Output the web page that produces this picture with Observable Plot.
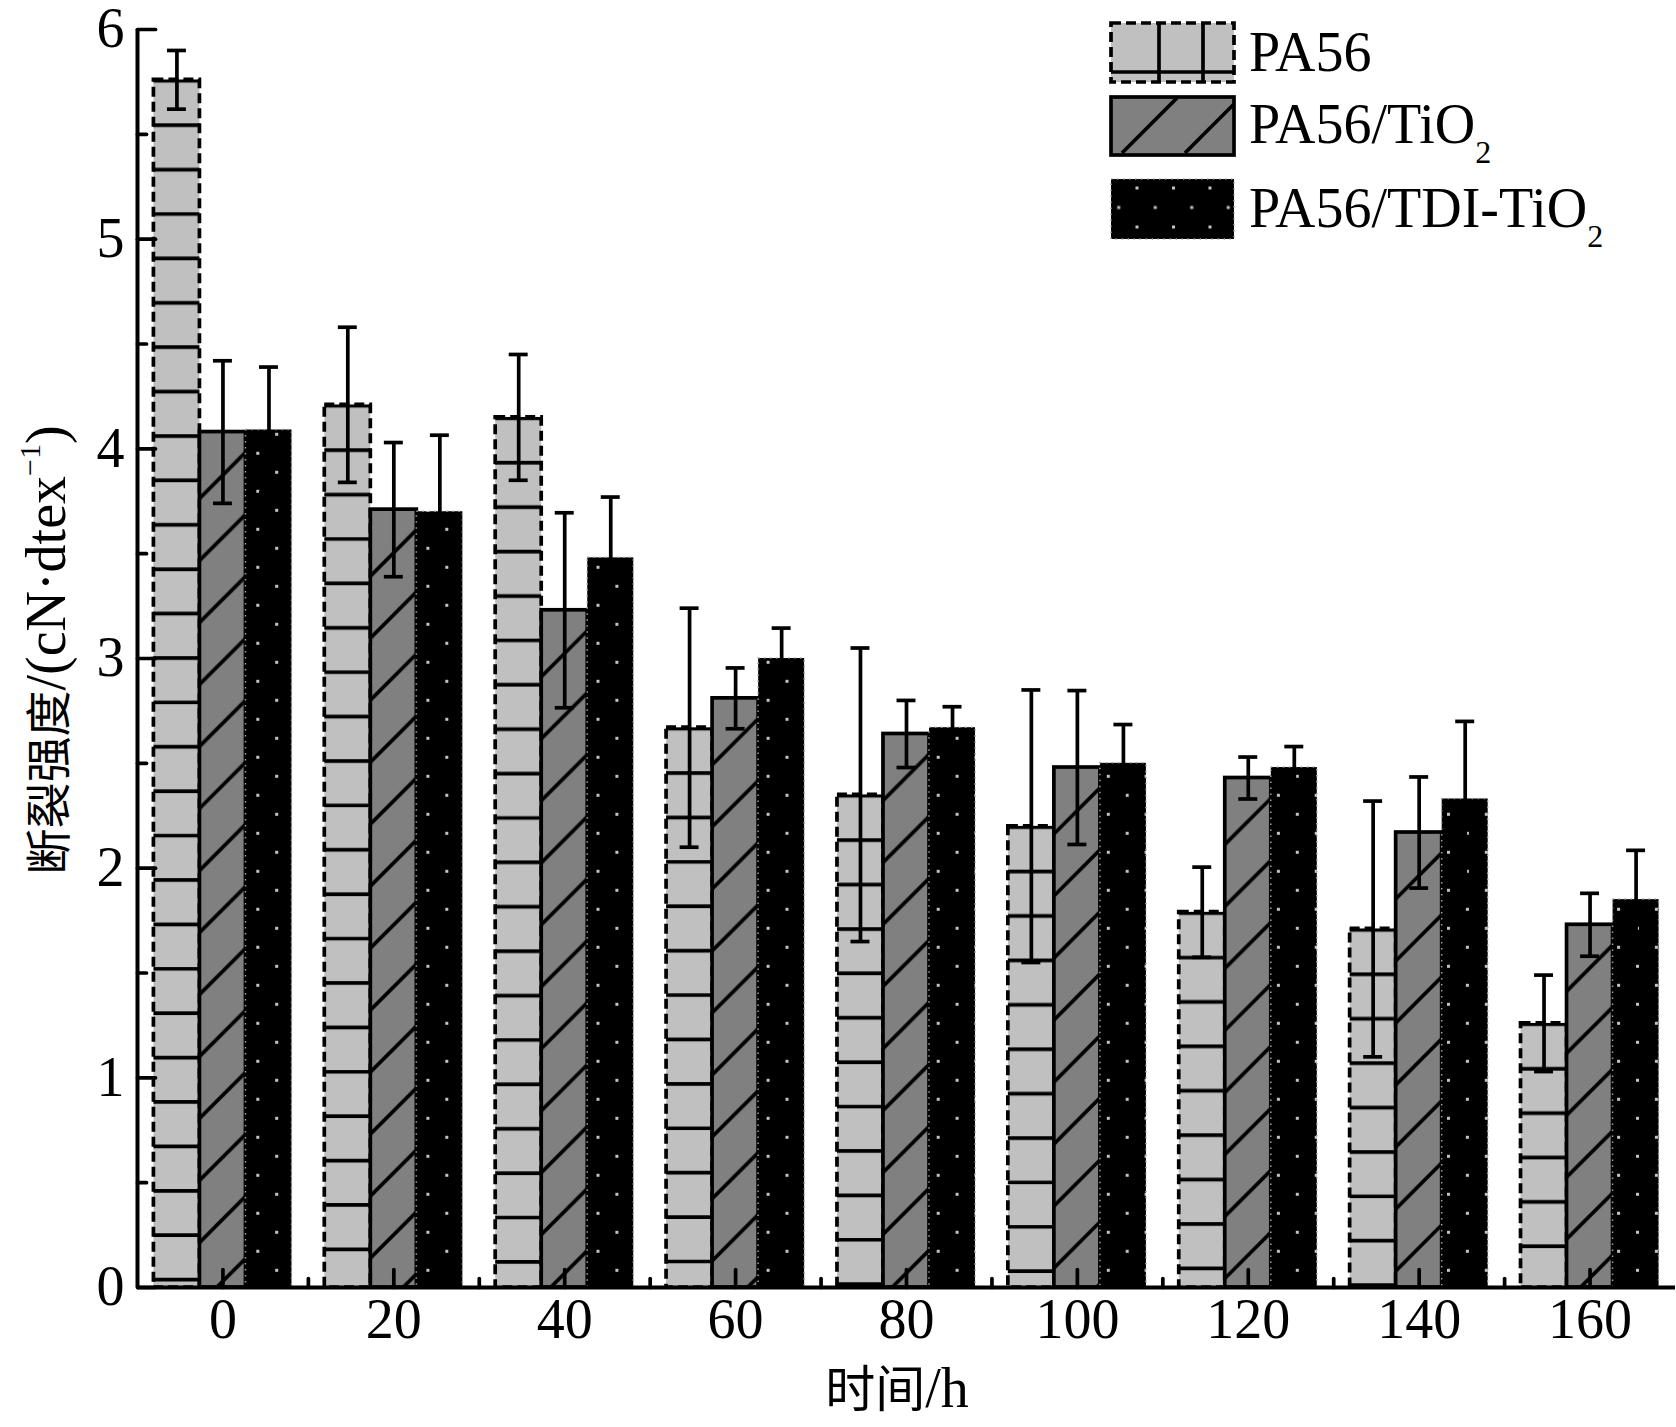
<!DOCTYPE html>
<html>
<head>
<meta charset="utf-8">
<script src="https://cdn.jsdelivr.net/npm/d3@7"></script>
<script src="https://cdn.jsdelivr.net/npm/@observablehq/plot@0.6"></script>
<style>
  body { margin: 0; background: #fff; }
  #chart { position: relative; width: 1676px; height: 1427px; }
</style>
</head>
<body>
<div id="chart"></div>
<script>
// ---------- data ----------
const times = [0, 20, 40, 60, 80, 100, 120, 140, 160];
const seriesNames = ["PA56", "PA56/TiO2", "PA56/TDI-TiO2"];
const pa56     = [5.76, 4.21, 4.15, 2.67, 2.35, 2.20, 1.79, 1.71, 1.26];
const pa56Err  = [0.14, 0.37, 0.30, 0.57, 0.70, 0.65, 0.215, 0.61, 0.23];
const tio2     = [4.08, 3.71, 3.23, 2.81, 2.64, 2.48, 2.43, 2.17, 1.73];
const tio2Err  = [0.34, 0.32, 0.465, 0.145, 0.16, 0.367, 0.10, 0.265, 0.15];
const tdi      = [4.09, 3.70, 3.48, 3.00, 2.67, 2.50, 2.48, 2.33, 1.85];
const tdiErr   = [0.30, 0.365, 0.29, 0.145, 0.10, 0.185, 0.10, 0.37, 0.235];
const yMajorTicks = [0, 1, 2, 3, 4, 5, 6];
const yMinorTicks = [0.5, 1.5, 2.5, 3.5, 4.5, 5.5];
const xMajorTicks = [0, 20, 40, 60, 80, 100, 120, 140, 160];
const xMinorTicks = [10, 30, 50, 70, 90, 110, 130, 150];
const xDomain = [-10, 170];
const yDomain = [0, 6];

// ---------- table ----------
const values = [pa56, tio2, tdi];
const errors = [pa56Err, tio2Err, tdiErr];
const rows = [];
seriesNames.forEach((s, i) => times.forEach((t, j) =>
  rows.push({series: s, si: i, time: t, value: values[i][j], err: errors[i][j]})));

const groupSpan = 16.16;           // width of a group of three bars, in hours
const barSpan = groupSpan / 3;
const bx1 = d => d.time - groupSpan / 2 + d.si * barSpan;
const bx2 = d => bx1(d) + barSpan;
const bxc = d => bx1(d) + barSpan / 2;
const capHalf = 1.11;
const LW = 3.7;

const tickRight = {draw(ctx, l) { ctx.moveTo(0, 0); ctx.lineTo(l, 0); }};
const tickUp = {draw(ctx, l) { ctx.moveTo(0, 0); ctx.lineTo(0, -l); }};

const S = i => rows.filter(d => d.si === i);

const chart = Plot.plot({
  width: 1676,
  height: 1427,
  marginLeft: 137,
  marginRight: 1,
  marginTop: 29,
  marginBottom: 140,
  x: {domain: xDomain},
  y: {domain: yDomain},
  style: {fontFamily: "'Liberation Serif', 'Times New Roman', serif", background: "white", color: "black", overflow: "visible"},
  marks: [
    Plot.rect(S(0), {x1: bx1, x2: bx2, y1: () => 0, y2: "value", fill: "url(#pa56Fill)",
      stroke: "black", strokeWidth: LW, strokeDasharray: "10,5"}),
    Plot.rect(S(1), {x1: bx1, x2: bx2, y1: () => 0, y2: "value", fill: "url(#tio2Fill)",
      stroke: "black", strokeWidth: LW}),
    Plot.rect(S(2), {x1: bx1, x2: bx2, y1: () => 0, y2: "value", fill: "url(#tdiFill)",
      stroke: "#a0a0a0", strokeWidth: 1.5, strokeDasharray: "1.5,4.5"}),
    // error bars
    Plot.ruleX(rows, {x: bxc, y1: d => d.value - d.err, y2: d => d.value + d.err, stroke: "black", strokeWidth: LW}),
    Plot.ruleY(rows, {y: d => d.value + d.err, x1: d => bxc(d) - capHalf, x2: d => bxc(d) + capHalf, stroke: "black", strokeWidth: LW}),
    Plot.ruleY(rows, {y: d => d.value - d.err, x1: d => bxc(d) - capHalf, x2: d => bxc(d) + capHalf, stroke: "black", strokeWidth: LW}),
    // axis lines
    Plot.ruleX([xDomain[0]], {stroke: "black", strokeWidth: 4}),
    Plot.ruleY([yDomain[0]], {stroke: "black", strokeWidth: 4}),
    // inward ticks
    Plot.vector(yMajorTicks, {y: d => d, frameAnchor: "left", length: 18, shape: tickRight, anchor: "start", stroke: "black", strokeWidth: LW}),
    Plot.vector(yMinorTicks, {y: d => d, frameAnchor: "left", length: 9, shape: tickRight, anchor: "start", stroke: "black", strokeWidth: LW}),
    Plot.vector(xMajorTicks, {x: d => d, frameAnchor: "bottom", length: 18, shape: tickUp, anchor: "start", stroke: "black", strokeWidth: LW}),
    Plot.vector(xMinorTicks, {x: d => d, frameAnchor: "bottom", length: 9, shape: tickUp, anchor: "start", stroke: "black", strokeWidth: LW}),
    // tick labels
    Plot.axisY({ticks: yMajorTicks, tickSize: 0, tickPadding: 13, fontSize: 56, label: null, tickFormat: d => String(d)}),
    Plot.axisX({ticks: xMajorTicks, tickSize: 0, tickPadding: 11, fontSize: 56, label: null, tickFormat: d => String(d)})
  ]
});

document.getElementById("chart").appendChild(chart);

// ---------- patterns, titles and legend ----------
const svg = d3.select(chart);
const defs = svg.insert("defs", ":first-child");

// PA56: light grey with horizontal lines, anchored at each bar's top
const p1 = defs.append("pattern").attr("id", "pa56Fill")
  .attr("patternUnits", "objectBoundingBox").attr("x", 0).attr("y", 0).attr("width", 1).attr("height", 1);
p1.append("rect").attr("x", -10).attr("y", -10).attr("width", 300).attr("height", 1500).attr("fill", "#c0c0c0");
for (let k = 0; k < 34; k++) {
  p1.append("line").attr("x1", -10).attr("x2", 300).attr("y1", 1.5 + 44.4 * k).attr("y2", 1.5 + 44.4 * k)
    .attr("stroke", "black").attr("stroke-width", LW);
}

// PA56/TiO2: mid grey with "/" hatching, anchored at each bar's top
const p2 = defs.append("pattern").attr("id", "tio2Fill")
  .attr("patternUnits", "objectBoundingBox").attr("x", 0).attr("y", 0).attr("width", 1).attr("height", 1);
p2.append("rect").attr("x", -10).attr("y", -10).attr("width", 300).attr("height", 1500).attr("fill", "#808080");
for (let k = 0; k < 25; k++) {
  const yr = 21 + 62 * k;
  p2.append("line").attr("x1", -20).attr("y1", yr + 66).attr("x2", 70).attr("y2", yr - 24)
    .attr("stroke", "black").attr("stroke-width", LW);
}

// PA56/TDI-TiO2: black with a staggered grid of small grey dots
const p3 = defs.append("pattern").attr("id", "tdiFill")
  .attr("patternUnits", "userSpaceOnUse").attr("x", 275.2).attr("y", 432.8).attr("width", 37.8).attr("height", 38);
p3.append("rect").attr("width", 37.8).attr("height", 38).attr("fill", "black");
p3.append("rect").attr("x", 0).attr("y", 0).attr("width", 3).attr("height", 3).attr("fill", "#c4c4c4");
p3.append("rect").attr("x", 18.9).attr("y", 19).attr("width", 3).attr("height", 3).attr("fill", "#c4c4c4");

const p4 = defs.append("pattern").attr("id", "tdiLegend")
  .attr("patternUnits", "userSpaceOnUse").attr("x", 1135.5).attr("y", 186.5).attr("width", 36.5).attr("height", 39);
p4.append("rect").attr("width", 36.5).attr("height", 39).attr("fill", "black");
p4.append("rect").attr("x", 0).attr("y", 0).attr("width", 3).attr("height", 3).attr("fill", "#c4c4c4");
p4.append("rect").attr("x", 18.25).attr("y", 19.5).attr("width", 3).attr("height", 3).attr("fill", "#c4c4c4");

defs.append("clipPath").attr("id", "legClip2").append("rect")
  .attr("x", 1111).attr("y", 97).attr("width", 123).attr("height", 58);

const serif = "'Liberation Serif', 'Times New Roman', serif";
const cjk = "'Noto Sans CJK SC', sans-serif";

// y title
const yt = svg.append("text")
  .attr("transform", "translate(65,650) rotate(-90)")
  .attr("text-anchor", "middle")
  .attr("font-family", serif).attr("font-size", 56).attr("fill", "black");
yt.append("tspan").attr("font-family", cjk).attr("font-size", 46).text("断裂强度");
yt.append("tspan").text("/(cN·dtex");
yt.append("tspan").attr("font-size", 30).attr("dy", -25).text("−1");
yt.append("tspan").attr("dy", 25).text(")");

// x title
const xt = svg.append("text")
  .attr("x", 897).attr("y", 1407)
  .attr("text-anchor", "middle")
  .attr("font-family", serif).attr("font-size", 56).attr("fill", "black");
xt.append("tspan").attr("font-family", cjk).attr("font-size", 50).text("时间");
xt.append("tspan").text("/h");

// legend
const leg = svg.append("g");
// PA56 swatch
leg.append("rect").attr("x", 1111).attr("y", 23).attr("width", 123).attr("height", 59)
  .attr("fill", "#c0c0c0").attr("stroke", "black").attr("stroke-width", LW).attr("stroke-dasharray", "10,5");
[1159, 1203].forEach(x => leg.append("line").attr("x1", x).attr("x2", x).attr("y1", 23).attr("y2", 82)
  .attr("stroke", "black").attr("stroke-width", LW));
leg.append("line").attr("x1", 1111).attr("x2", 1234).attr("y1", 72).attr("y2", 72)
  .attr("stroke", "black").attr("stroke-width", LW);
// TiO2 swatch
leg.append("rect").attr("x", 1111).attr("y", 97).attr("width", 123).attr("height", 58).attr("fill", "#808080");
const lg2 = leg.append("g").attr("clip-path", "url(#legClip2)");
[[1122, 153, 1177, 98], [1185, 153, 1240, 98]].forEach(([a, b, c, e]) =>
  lg2.append("line").attr("x1", a).attr("y1", b).attr("x2", c).attr("y2", e).attr("stroke", "black").attr("stroke-width", LW));
leg.append("rect").attr("x", 1111).attr("y", 97).attr("width", 123).attr("height", 58)
  .attr("fill", "none").attr("stroke", "black").attr("stroke-width", LW);
// TDI swatch
leg.append("rect").attr("x", 1111).attr("y", 179).attr("width", 123).attr("height", 60)
  .attr("fill", "url(#tdiLegend)").attr("stroke", "#a0a0a0").attr("stroke-width", 1.5).attr("stroke-dasharray", "1.5,4.5");

const legText = (y, main, sub) => {
  const t = leg.append("text").attr("x", 1249).attr("y", y)
    .attr("text-anchor", "start")
    .attr("font-family", serif).attr("font-size", 56).attr("fill", "black");
  t.append("tspan").text(main);
  if (sub) {
    t.append("tspan").attr("font-size", 32).attr("dy", 20).text(sub);
  }
};
legText(71, "PA56", null);
legText(143, "PA56/TiO", "2");
legText(227, "PA56/TDI-TiO", "2");
</script>
</body>
</html>
